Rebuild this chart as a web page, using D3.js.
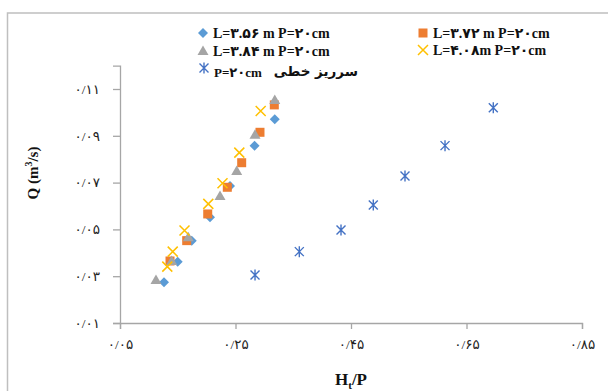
<!DOCTYPE html>
<html><head><meta charset="utf-8">
<script src="https://cdn.jsdelivr.net/npm/d3@7"></script>
<style>body{margin:0;background:#fff}svg{display:block}</style>
</head><body>
<script>
// ---- data ----
const xTicks = [0.05, 0.25, 0.45, 0.65, 0.85];
const xTickLabels = ["۰/۰۵", "۰/۲۵", "۰/۴۵", "۰/۶۵", "۰/۸۵"];
const yTicks = [0.01, 0.03, 0.05, 0.07, 0.09, 0.11];
const yTickLabels = ["۰/۰۱", "۰/۰۳", "۰/۰۵", "۰/۰۷", "۰/۰۹", "۰/۱۱"];

const seriesNames = ["L=۳.۵۶ m P=۲۰cm", "L=۳.۷۲ m P=۲۰cm", "L=۳.۸۴ m P=۲۰cm", "L=۴.۰۸m P=۲۰cm", "P=۲۰cm"];
const linearLabel = "سرریز خطی";

const s1x = [0.1262, 0.1499, 0.1742, 0.2058, 0.2405, 0.2830, 0.3180];
const s1y = [0.0274, 0.0362, 0.0452, 0.0552, 0.0686, 0.0857, 0.0971];
const s2x = [0.1366, 0.1655, 0.2019, 0.2358, 0.2607, 0.2924, 0.3172];
const s2y = [0.0365, 0.0452, 0.0566, 0.0680, 0.0785, 0.0915, 0.1032];
const s3x = [0.1123, 0.1395, 0.1683, 0.2232, 0.2521, 0.2838, 0.3180];
const s3y = [0.0284, 0.0365, 0.0466, 0.0643, 0.0750, 0.0904, 0.1053];
const s4x = [0.1319, 0.1413, 0.1617, 0.2029, 0.2275, 0.2566, 0.2936];
const s4y = [0.0341, 0.0405, 0.0495, 0.0609, 0.0697, 0.0828, 0.1006];
const s5x = [0.2838, 0.3605, 0.4327, 0.4886, 0.5435, 0.6128, 0.6964];
const s5y = [0.0305, 0.0405, 0.0497, 0.0604, 0.0728, 0.0858, 0.1020];

// ---- layout ----
const W = 608, H = 391;
const svg = d3.select("body").append("svg").attr("width", W).attr("height", H);
svg.append("rect").attr("x", 7.5).attr("y", 13).attr("width", 620).attr("height", 400)
  .attr("fill", "#fff").attr("stroke", "#bfbfbf").attr("stroke-width", 1.5);

const x = d3.scaleLinear().domain([0.05, 0.85]).range([120, 582]);
const y = d3.scaleLinear().domain([0.01, 0.12]).range([323, 65.6]);
const serif = "'Liberation Serif','DejaVu Sans',serif";
const axisColor = "#a6a6a6";

const xAxis = d3.axisBottom(x).tickValues(xTicks).tickSize(6).tickFormat((d, i) => xTickLabels[i]);
const yAxis = d3.axisLeft(y).tickValues(yTicks).tickSize(7).tickFormat((d, i) => yTickLabels[i]);

const gx = svg.append("g").attr("transform", "translate(0,323)").call(xAxis);
const gy = svg.append("g").attr("transform", "translate(120,0)").call(yAxis);
[gx, gy].forEach(g => {
  g.select(".domain").attr("stroke", axisColor).attr("stroke-width", 1.3);
  g.selectAll(".tick line").attr("stroke", axisColor).attr("stroke-width", 1.3);
  g.selectAll(".tick text").attr("fill", "#222").style("font-family", serif).style("font-size", "13.5px");
});
gx.selectAll(".tick text").attr("dy", "0").attr("y", 26);
gy.selectAll(".tick text").attr("x", -20);

// axis titles
svg.append("text").attr("x", 351).attr("y", 385).attr("text-anchor", "middle")
  .style("font-family", serif).style("font-weight", "bold").style("font-size", "17px").attr("fill", "#111")
  .html('H<tspan font-size="11px" dy="4">t</tspan><tspan dy="-4">/P</tspan>');
svg.append("text").attr("transform", "translate(38,173) rotate(-90)").attr("text-anchor", "middle")
  .style("font-family", serif).style("font-weight", "bold").style("font-size", "15px").attr("fill", "#111")
  .html('Q (m<tspan font-size="10px" dy="-6">3</tspan><tspan dy="6">/s)</tspan>');

// markers
const colors = ["#5b9bd5", "#ed7d31", "#a5a5a5", "#ffc000", "#4472c4"];
function drawMarker(g, type, cx, cy) {
  if (type === 0) {
    g.append("path").attr("d", `M${cx},${cy-5}L${cx+5},${cy}L${cx},${cy+5}L${cx-5},${cy}Z`).attr("fill", colors[0]);
  } else if (type === 1) {
    g.append("rect").attr("x", cx-4.5).attr("y", cy-4.5).attr("width", 9).attr("height", 9).attr("fill", colors[1]);
  } else if (type === 2) {
    g.append("path").attr("d", `M${cx},${cy-5.5}L${cx+5.5},${cy+4}L${cx-5.5},${cy+4}Z`).attr("fill", colors[2]);
  } else if (type === 3) {
    g.append("path").attr("d", `M${cx-5},${cy-5}L${cx+5},${cy+5}M${cx+5},${cy-5}L${cx-5},${cy+5}`)
      .attr("stroke", colors[3]).attr("stroke-width", 1.5).attr("fill", "none");
  } else {
    g.append("path").attr("d", `M${cx-4.5},${cy-4.5}L${cx+4.5},${cy+4.5}M${cx+4.5},${cy-4.5}L${cx-4.5},${cy+4.5}M${cx},${cy-5.5}L${cx},${cy+5.5}`)
      .attr("stroke", colors[4]).attr("stroke-width", 1.4).attr("fill", "none");
  }
}
const allX = [s1x, s2x, s3x, s4x, s5x], allY = [s1y, s2y, s3y, s4y, s5y];
const plot = svg.append("g");
allX.forEach((xs, si) => {
  const g = plot.append("g");
  xs.forEach((v, i) => drawMarker(g, si, x(v), y(allY[si][i])));
});

// legend
const leg = svg.append("g");
const legPos = [[203, 33], [423, 33], [203, 51], [423, 50], [204, 68]];
legPos.forEach((p, i) => {
  drawMarker(leg, i, p[0], p[1]);
  leg.append("text").attr("x", p[0] + 10).attr("y", p[1] + 5 + (i === 4 ? 4 : 0))
    .style("font-family", serif).style("font-weight", "bold")
    .style("font-size", i === 4 ? "13px" : "14px").attr("fill", "#111")
    .text(seriesNames[i]);
});
leg.append("text").attr("x", 358).attr("y", 76).attr("text-anchor", "end")
  .style("font-family", "'DejaVu Sans',sans-serif").style("font-weight", "bold").style("font-size", "13.5px")
  .attr("fill", "#111").text(linearLabel);
</script>
</body></html>
